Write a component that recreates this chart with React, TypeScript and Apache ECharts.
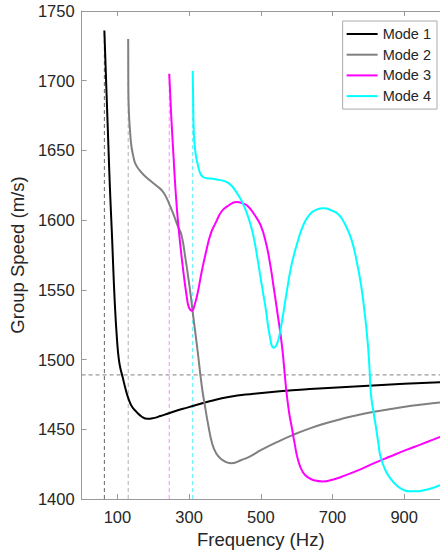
import React, { useEffect, useRef } from "react";
import * as echarts from "echarts";

// ---- Data ----
const seriesNames = ["Mode 1", "Mode 2", "Mode 3", "Mode 4"];
const seriesColors = ["#000000", "#808080", "#ff00ff", "#00ffff"];
const cutoffColors = ["#666666", "#b0b0b0", "#ff88ff", "#55eeff"];

const mode1Freq = [63.5, 69, 74, 79, 84.6, 92.7, 100, 104, 108, 114.4, 122.5, 130, 140, 153, 168, 184, 200, 220, 243, 280, 315, 360, 410, 480, 553, 650, 800, 900, 1000];
const mode1Speed = [1736, 1695, 1659, 1623, 1590, 1540, 1510, 1500, 1494, 1487.5, 1479, 1472.5, 1466.5, 1462.5, 1459, 1457.5, 1458, 1459.5, 1461.5, 1464.5, 1467, 1470.3, 1473.2, 1475.5, 1477.3, 1479, 1481.3, 1482.6, 1483.8];

const mode2Freq = [130, 130.3, 131, 133, 136, 139, 145, 150, 161, 175, 193, 210, 225, 237, 247, 258, 268, 279, 290, 297, 304, 310, 317, 324, 331, 337, 344, 352, 364, 375, 390, 405, 419, 446, 473, 500, 545, 590, 635, 681, 726, 771, 816, 861, 920, 979, 1000];
const mode2Speed = [1730, 1700, 1685, 1672, 1661, 1653, 1645, 1640.5, 1636, 1632, 1628, 1624.5, 1621, 1616, 1610, 1603, 1596, 1589, 1572, 1560, 1547, 1534, 1520, 1505.5, 1490, 1478, 1467, 1455, 1440, 1433, 1428.5, 1426.3, 1425.7, 1428, 1431, 1435, 1440.8, 1446, 1450.5, 1454.3, 1457.5, 1460.2, 1462.5, 1464.5, 1466.8, 1468.6, 1469.2];

const mode3Freq = [244.5, 250, 256, 262, 270, 283, 294, 300, 307.6, 315, 324, 335, 347, 360, 374, 390, 410, 432, 450, 464, 482, 500, 515, 527, 537, 545, 559, 568, 572, 579, 586, 595, 604, 618, 635, 652, 672, 700, 726, 771, 816, 861, 906, 945, 979, 1000];
const mode3Speed = [1705, 1675, 1648, 1622, 1596, 1565, 1544, 1537, 1535, 1539, 1548, 1563, 1577, 1590, 1598, 1606, 1610.5, 1613, 1612, 1610, 1604, 1596, 1583, 1567, 1550, 1536, 1510, 1486, 1476, 1462, 1452, 1439, 1428, 1419, 1415, 1413.2, 1412.6, 1413.8, 1416, 1420.5, 1425.7, 1430.5, 1435.2, 1439, 1442.4, 1444.5];

const mode4Freq = [310, 311, 313, 318, 324, 332, 342, 374, 410, 437, 455, 470, 480, 491, 503, 514, 525, 536, 545, 554, 572, 585, 600, 618, 636, 655, 676, 697, 717, 735, 753, 768, 780, 790, 798, 803, 807, 814, 821, 828, 834, 847, 861, 880, 898, 915, 934, 955, 979, 1000];
const mode4Speed = [1707, 1690, 1663, 1648, 1640, 1633, 1630.5, 1629.3, 1626.5, 1618, 1609, 1598, 1588, 1572, 1553, 1536, 1517, 1508.5, 1511, 1520, 1548, 1567, 1582, 1596, 1604, 1607.5, 1608.5, 1607, 1604, 1597, 1586, 1570, 1553, 1533, 1513, 1495, 1476, 1463, 1452, 1440, 1430.5, 1421, 1415, 1409.5, 1406.6, 1405.5, 1405.5, 1406.3, 1407.9, 1410];

const cutoffFreqs = [63.5, 130, 244.5, 310];
const referenceSpeed = 1489;

const xTickValues = [100, 300, 500, 700, 900];

const FONT = "'Liberation Sans', Arial, sans-serif";

export default function App() {
  const ref = useRef<HTMLDivElement>(null);
  useEffect(() => {
    if (!ref.current) return;
    const chart = echarts.init(ref.current, undefined, { renderer: "svg" });
    const freqs = [mode1Freq, mode2Freq, mode3Freq, mode4Freq];
    const speeds = [mode1Speed, mode2Speed, mode3Speed, mode4Speed];

    const cutoffSeries = cutoffFreqs.map((f, i) => ({
      name: "cutoff" + i,
      type: "line",
      data: [[f, 1400], [f, speeds[i][0]]],
      symbol: "none",
      silent: true,
      z: 1,
      lineStyle: { color: cutoffColors[i], width: 1, type: [4, 3] },
    }));
    const refSeries = {
      name: "reference",
      type: "line",
      data: [[0, referenceSpeed], [1000, referenceSpeed]],
      symbol: "none",
      silent: true,
      z: 1,
      lineStyle: { color: "#808080", width: 1, type: [4, 3] },
    };
    const modeSeries = seriesNames.map((n, i) => ({
      name: n,
      type: "line",
      data: freqs[i].map((f, j) => [f, speeds[i][j]]),
      symbol: "none",
      smooth: 0.5,
      z: 3,
      lineStyle: { color: seriesColors[i], width: 2 },
      itemStyle: { color: seriesColors[i] },
    }));

    chart.setOption({
      animation: false,
      textStyle: { fontFamily: FONT },
      grid: { left: 79, right: -8, top: 11, bottom: 53 },
      legend: {
        data: seriesNames,
        orient: "vertical",
        right: 3,
        top: 21,
        padding: [5, 6, 5, 4],
        icon: "rect",
        itemWidth: 31,
        itemHeight: 2,
        itemGap: 4.7,
        borderColor: "#aaaaaa",
        borderWidth: 1,
        backgroundColor: "#ffffff",
        textStyle: { fontFamily: FONT, fontSize: 14.5, color: "#262626", lineHeight: 16 },
      },
      xAxis: [
        {
          type: "value",
          min: 0,
          max: 1000,
          name: "Frequency (Hz)",
          nameLocation: "middle",
          nameGap: 31,
          nameTextStyle: { fontFamily: FONT, fontSize: 18.5, color: "#262626" },
          axisLine: { show: true, lineStyle: { color: "#999999" } },
          axisTick: { show: true, inside: true, length: 5, customValues: xTickValues, lineStyle: { color: "#999999" } },
          axisLabel: { customValues: xTickValues, formatter: (v: number) => String(v), fontFamily: FONT, fontSize: 16.5, color: "#262626", margin: 9 },
          splitLine: { show: false },
        },
        {
          type: "value",
          position: "top",
          min: 0,
          max: 1000,
          axisLine: { show: true, onZero: false, lineStyle: { color: "#999999" } },
          axisTick: { show: true, inside: true, length: 5, customValues: xTickValues, lineStyle: { color: "#999999" } },
          axisLabel: { show: false },
          splitLine: { show: false },
        },
      ],
      yAxis: {
        type: "value",
        min: 1400,
        max: 1750,
        interval: 50,
        name: "Group Speed (m/s)",
        nameLocation: "middle",
        nameGap: 45,
        nameTextStyle: { fontFamily: FONT, fontSize: 18.5, color: "#262626" },
        axisLine: { show: true, lineStyle: { color: "#999999" } },
        axisTick: { show: true, inside: true, length: 5, lineStyle: { color: "#999999" } },
        axisLabel: { formatter: (v: number) => String(v), fontFamily: FONT, fontSize: 16.5, color: "#262626", margin: 7 },
        splitLine: { show: false },
      },
      series: [...cutoffSeries, refSeries, ...modeSeries],
    });
    return () => chart.dispose();
  }, []);
  return (
    <div style={{ position: "fixed", left: 0, top: 0, width: 440, height: 554, overflow: "hidden", background: "#fff" }}>
      <div ref={ref} style={{ width: 440, height: 554 }} />
    </div>
  );
}
